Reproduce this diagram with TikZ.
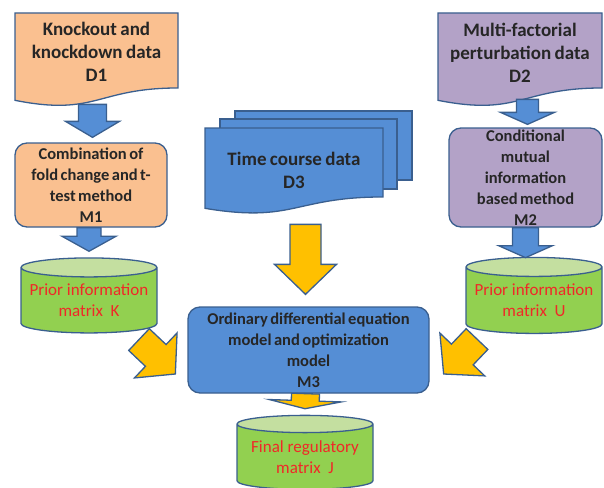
\documentclass[tikz,border=0pt]{standalone}
\usepackage{fontspec}
\setmainfont{Carlito}
\usepackage{tikz}
\usetikzlibrary{calc,shapes.geometric}
\definecolor{edgeblue}{HTML}{3A5F8F}
\definecolor{peach}{HTML}{FAC090}
\definecolor{lilac}{HTML}{B3A2C7}
\definecolor{boxblue}{HTML}{558ED5}
\definecolor{gold}{HTML}{FFC000}
\definecolor{storegreen}{HTML}{92D050}
\definecolor{storetop}{HTML}{C4DFA0}
\definecolor{inkred}{HTML}{F02828}
\definecolor{ink}{HTML}{262626}
\newcommand{\tightwords}[1]{\spaceskip=#1\relax}
\newcommand{\docshape}[5]{%
  \draw[edgeblue, line width=1.3pt, fill=#1] (#2,#3) -- ({#2+#4},#3) -- ({#2+#4},{#3+0.802*#5})
    .. controls ({#2+0.5*#4},{#3+0.802*#5}) and ({#2+0.5*#4},{#3+1.1075*#5}) .. (#2,{#3+0.934*#5}) -- cycle;}
\newcommand{\blockarrow}[6]{%
  \coordinate (ba_s) at #2;
  \coordinate (ba_t) at #3;
  \coordinate (ba_b) at ($(ba_t)!#6!(ba_s)$);
  \draw[edgeblue, line width=1.3pt, fill=#1] ($(ba_s)!#4!90:(ba_t)$) -- ($(ba_b)!#4!90:(ba_t)$)
    -- ($(ba_b)!#5!90:(ba_t)$) -- (ba_t) -- ($(ba_b)!#5!-90:(ba_t)$)
    -- ($(ba_b)!#4!-90:(ba_t)$) -- ($(ba_s)!#4!-90:(ba_t)$) -- cycle;}
\tikzset{
  doctext/.style={align=center, text=ink, font=\fontsize{19}{23}\selectfont\bfseries\tightwords{0.18em}},
  method/.style={draw=edgeblue, line width=1.3pt, rounded corners=12pt, inner sep=0pt,
    align=center, text=ink, font=\fontsize{16.5}{21}\selectfont\bfseries\tightwords{0.15em}},
  store/.style={cylinder, shape border rotate=90, aspect=0.16, draw=edgeblue, line width=1.3pt,
    cylinder uses custom fill, cylinder body fill=storegreen, cylinder end fill=storetop,
    inner sep=0pt, align=center, text=inkred, font=\fontsize{17}{21}\selectfont}
}

\begin{document}
\begin{tikzpicture}[x=1pt, y=-1pt]
    \clip (0,0) rectangle (604,487);
    % data sources
    \docshape{peach}{15}{13}{163}{93.5}
    \node[doctext] (knock_data) at (96.5,52) {Knockout and\\knockdown data\\D1};
    \docshape{lilac}{438}{13}{164}{93.5}
    \node[doctext] (multi_data) at (520,53) {Multi-factorial\\perturbation data\\D2};
    \draw[edgeblue, line width=1.3pt, fill=boxblue] (235,111) rectangle (412,180);
    \draw[edgeblue, line width=1.3pt, fill=boxblue] (220,119) rectangle (397,189);
    \docshape{boxblue}{205}{128}{178}{86}
    \node[doctext] (time_data) at (294,170) {Time course data\\D3};
    % methods
    \node[method, fill=peach, minimum width=152pt, minimum height=84pt] (fold_m) at (91,185)
      {Combination of\\fold change and t-\\test method\\M1};
    \node[method, fill=lilac, minimum width=153pt, minimum height=99pt] (cmi_m) at (525.5,177.5)
      {Conditional\\mutual\\information\\based method\\M2};
    \node[method, fill=boxblue, minimum width=241pt, minimum height=86pt] (ode_m) at (308.5,350)
      {Ordinary differential equation\\model and optimization\\model\\M3};
    % matrices
    \node[store, minimum width=136pt, minimum height=75pt] (prior_k) at (89,300.5) {Prior information\\matrix~~K};
    \node[store, minimum width=136pt, minimum height=76pt] (prior_u) at (534,300.5) {Prior information\\matrix~~U};
    \node[store, minimum width=136pt, minimum height=74pt] (final_j) at (305,457) {Final regulatory\\matrix~~J};
    % arrows
    \blockarrow{boxblue}{($(fold_m.north)+(1.5,-38)$)}{($(fold_m.north)+(1.5,-5)$)}{14pt}{27pt}{16pt}
    \blockarrow{boxblue}{(fold_m.south -| prior_k.north)}{($(prior_k.north)+(0,-6)$)}{12pt}{27pt}{15pt}
    \blockarrow{boxblue}{($(cmi_m.north)+(2,-28)$)}{($(cmi_m.north)+(2,-3)$)}{11pt}{27pt}{12pt}
    \blockarrow{boxblue}{(cmi_m.south)}{($(cmi_m.south)+(0,30)$)}{13pt}{27pt}{12pt}
    \blockarrow{gold}{($(ode_m.north)+(-3,-82)$)}{($(ode_m.north)+(-3,-12)$)}{15.5pt}{31pt}{30pt}
    \blockarrow{gold}{($(prior_k.south)+(50,6)$)}{($(ode_m.west)+(-12,24)$)}{15pt}{31pt}{27pt}
    \blockarrow{gold}{($(prior_u.south)+(-57,5)$)}{($(ode_m.east)+(14,24)$)}{15pt}{31pt}{27pt}
    \blockarrow{gold}{($(ode_m.south)+(-3,0)$)}{($(final_j.north)+(0,-6)$)}{14pt}{36pt}{8pt}
\end{tikzpicture}
\end{document}
